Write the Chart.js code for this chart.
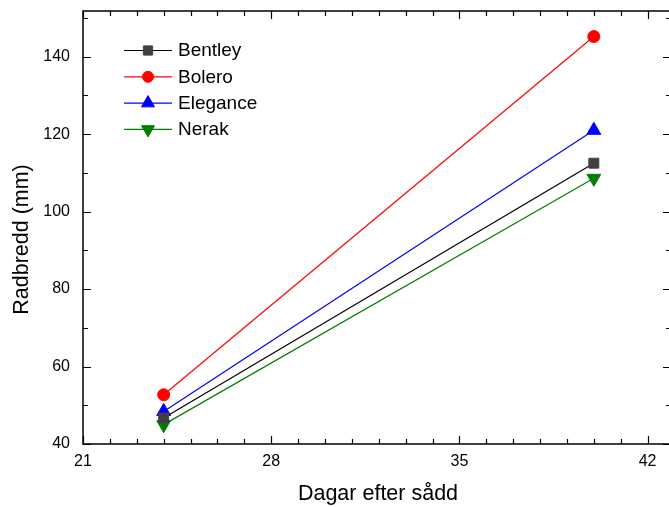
<!DOCTYPE html>
<html>
<head>
<meta charset="utf-8">
<script src="https://cdn.jsdelivr.net/npm/chart.js@4.4.1/dist/chart.umd.min.js"></script>
<style>
html,body{margin:0;padding:0;background:#fff;overflow:hidden;}
#wrap{width:669px;height:507px;overflow:hidden;position:relative;}
#c{position:absolute;left:0;top:0;}
</style>
</head>
<body>
<div id="wrap"><canvas id="c" width="680" height="507"></canvas></div>
<script>
const days = [24, 40];
const bentley = [46.7, 112.5];
const bolero = [52.7, 145.2];
const elegance = [48.4, 121.0];
const nerak = [45.0, 108.6];
const seriesNames = ['Bentley', 'Bolero', 'Elegance', 'Nerak'];
const xTicks = [21, 28, 35, 42];
const yTicks = [40, 60, 80, 100, 120, 140];
const xTitle = 'Dagar efter sådd';
const yTitle = 'Radbredd (mm)';

const FONT = '"Liberation Sans", Arial, sans-serif';

function pts(vals){ return days.map((d,i)=>({x:d,y:vals[i]})); }

const datasets = [
  {label:seriesNames[0], data:pts(bentley), borderColor:'#000000', backgroundColor:'#404040', pointBackgroundColor:'#404040', pointBorderColor:'#404040', pointStyle:'rect', pointRadius:7, pointRotation:0},
  {label:seriesNames[1], data:pts(bolero), borderColor:'#ff0000', backgroundColor:'#ff0000', pointBackgroundColor:'#ff0000', pointBorderColor:'#ff0000', pointStyle:'circle', pointRadius:6, pointRotation:0},
  {label:seriesNames[2], data:pts(elegance), borderColor:'#0000ff', backgroundColor:'#0000ff', pointBackgroundColor:'#0000ff', pointBorderColor:'#0000ff', pointStyle:'triangle', pointRadius:8, pointRotation:0},
  {label:seriesNames[3], data:pts(nerak), borderColor:'#008000', backgroundColor:'#008000', pointBackgroundColor:'#008000', pointBorderColor:'#008000', pointStyle:'triangle', pointRadius:8, pointRotation:180}
];
datasets.forEach(d=>{d.borderWidth=1.2; d.pointBorderWidth=1; d.fill=false; d.tension=0;});

const frame = {
  id:'frame',
  afterDatasetsDraw(chart){
    const ctx = chart.ctx, a = chart.chartArea;
    const xs = chart.scales.x, ys = chart.scales.y;
    ctx.save();
    ctx.strokeStyle = '#000'; ctx.lineWidth = 1.5;
    ctx.strokeRect(a.left, a.top, a.right - a.left, a.bottom - a.top);
    ctx.lineWidth = 1.2;
    for (let v = 21; v <= xs.max; v += 1) {
      const px = Math.round(xs.getPixelForValue(v)) + 0.5;
      const major = xTicks.includes(v);
      const len = major ? 8 : 5;
      ctx.beginPath();
      ctx.moveTo(px, a.bottom); ctx.lineTo(px, a.bottom - len);
      ctx.moveTo(px, a.top); ctx.lineTo(px, a.top + len);
      ctx.stroke();
    }
    for (let v = 40; v <= ys.max; v += 10) {
      const py = Math.round(ys.getPixelForValue(v)) + 0.5;
      const major = yTicks.includes(v);
      const len = major ? 8 : 5;
      ctx.beginPath();
      ctx.moveTo(a.left, py); ctx.lineTo(a.left + len, py);
      ctx.moveTo(a.right, py); ctx.lineTo(a.right - len, py);
      ctx.stroke();
    }
    ctx.fillStyle = '#000';
    ctx.font = '16px ' + FONT;
    ctx.textAlign = 'center'; ctx.textBaseline = 'middle';
    xTicks.forEach(v=>{ ctx.fillText(String(v), xs.getPixelForValue(v), a.bottom + 18); });
    ctx.textAlign = 'right';
    yTicks.forEach(v=>{ ctx.fillText(String(v), a.left - 13, ys.getPixelForValue(v)); });
    ctx.font = '21.5px ' + FONT;
    ctx.textAlign = 'center';
    ctx.fillText(xTitle, 378, a.bottom + 50);
    ctx.save();
    ctx.translate(22, (a.top + a.bottom) / 2 + 12);
    ctx.rotate(-Math.PI/2);
    ctx.fillText(yTitle, 0, 0);
    ctx.restore();
    ctx.font = '19px ' + FONT;
    ctx.textAlign = 'left';
    chart.data.datasets.forEach((d, i) => {
      const y = 50 + i * 26.3;
      ctx.strokeStyle = d.borderColor; ctx.lineWidth = 1.2;
      ctx.beginPath(); ctx.moveTo(124, y + 0.5); ctx.lineTo(172, y + 0.5); ctx.stroke();
      ctx.fillStyle = d.pointBackgroundColor; ctx.strokeStyle = d.pointBorderColor; ctx.lineWidth = 1;
      Chart.helpers.drawPoint(ctx, {pointStyle:d.pointStyle, radius:d.pointRadius - 0.5, rotation:d.pointRotation, borderWidth:1}, 148, y + 0.5);
      ctx.fillStyle = '#000';
      ctx.fillText(d.label, 178, y + 1);
    });
    ctx.restore();
  }
};

new Chart(document.getElementById('c'), {
  type:'line',
  data:{datasets},
  options:{
    responsive:false, animation:false, devicePixelRatio:1,
    layout:{padding:{top:11, right:0, left:0, bottom:0}},
    plugins:{legend:{display:false}, tooltip:{enabled:false}},
    scales:{
      x:{type:'linear', min:21, max:42.87,
         grid:{display:false, drawTicks:false}, border:{display:false},
         ticks:{display:false},
         afterFit(s){ s.height = 63; s.paddingLeft = 0; s.paddingRight = 0; }},
      y:{type:'linear', min:40, max:151.8,
         grid:{display:false, drawTicks:false}, border:{display:false},
         ticks:{display:false},
         afterFit(s){ s.width = 83; s.paddingTop = 0; s.paddingBottom = 0; }}
    }
  },
  plugins:[frame]
});
</script>
</body>
</html>
